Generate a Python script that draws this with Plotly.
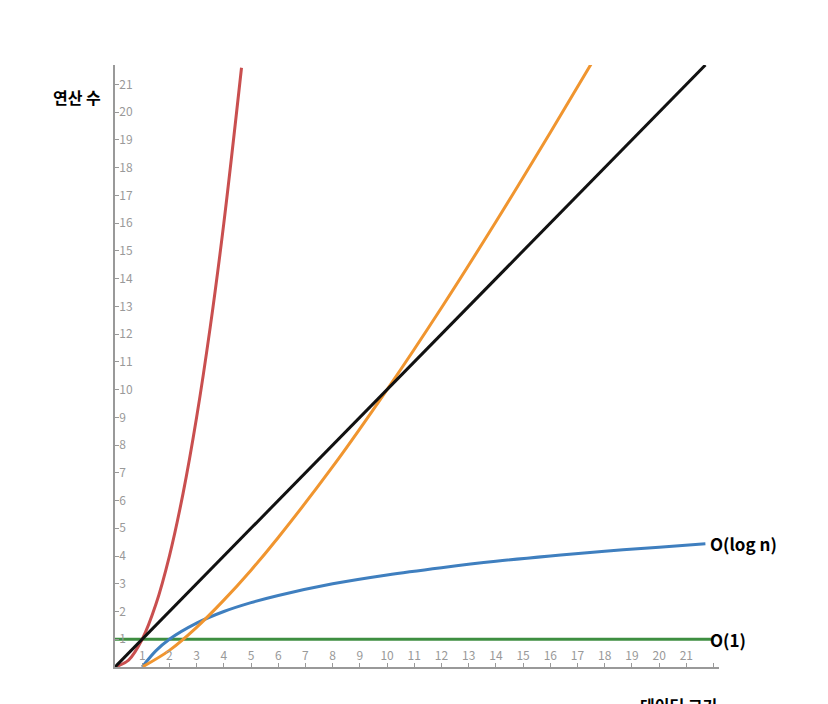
import plotly.graph_objects as go

# O(1)
const_x = [0, 22]
const_y = [1, 1]
# O(log n)
log_x = [1, 1.5, 2, 3, 4, 5, 6, 8, 10, 12, 14, 16, 18, 20, 21.7]
log_y = [0, 0.58, 1, 1.58, 2, 2.32, 2.58, 3, 3.32, 3.58, 3.81, 4, 4.17, 4.32, 4.44]
# O(n)
lin_x = [0, 21.7]
lin_y = [0, 21.7]
# O(n log n)
nlog_x = [1, 2, 3, 4, 5, 6, 8, 10, 12, 14, 16, 17.6]
nlog_y = [0, 0.60, 1.43, 2.41, 3.49, 4.67, 7.22, 10, 12.95, 16.05, 19.27, 21.9]
# O(n^2)
sq_x = [0, 0.5, 1, 1.5, 2, 2.5, 3, 3.5, 4, 4.65]
sq_y = [0, 0.25, 1, 2.25, 4, 6.25, 9, 12.25, 16, 21.6]

fig = go.Figure()
for xs, ys, c in [(const_x, const_y, "#3e8e41"), (log_x, log_y, "#3f7fbf"),
                  (nlog_x, nlog_y, "#f0952f"), (sq_x, sq_y, "#c94f4f"),
                  (lin_x, lin_y, "#111111")]:
    fig.add_trace(go.Scatter(x=xs, y=ys, mode="lines", line=dict(color=c, width=3, shape="spline"),
                             showlegend=False, hoverinfo="skip", cliponaxis=False))

labels = [(4.65, 22.2, "O(n²)", "center"), (17.6, 22.2, "O(n log n)", "center"),
          (21.8, 22.2, "O(n)", "left"), (21.8, 4.44, "O(log n)", "left"), (21.8, 1, "O(1)", "left")]
for x, y, t, a in labels:
    fig.add_annotation(x=x, y=y, text="<b>%s</b>" % t, showarrow=False, xanchor=a,
                       font=dict(size=17, color="black"))
fig.add_annotation(xref="paper", yref="paper", x=-0.02, y=0.97, text="<b>연산 수</b>",
                   showarrow=False, xanchor="right", font=dict(size=16, color="black"))
fig.add_annotation(xref="paper", yref="paper", x=1.0, y=-0.04, text="<b>데이터 크기</b>",
                   showarrow=False, xanchor="right", yanchor="top", font=dict(size=16, color="black"))

axis = dict(showgrid=False, zeroline=False, showline=True, linecolor="#999", linewidth=1.5,
            ticks="inside", ticklen=4, tickcolor="#999", ticklabelposition="inside",
            tickfont=dict(size=12, color="#999"), dtick=1)
fig.update_xaxes(range=[0, 22.2], tick0=1, **axis)
fig.update_yaxes(range=[0, 21.7], tick0=1, **axis)
fig.update_layout(width=828, height=704, margin=dict(l=107, r=117, t=57, b=45),
                  plot_bgcolor="white", paper_bgcolor="white",
                  font=dict(family="Noto Sans CJK KR"))
fig.write_html("out.html")
